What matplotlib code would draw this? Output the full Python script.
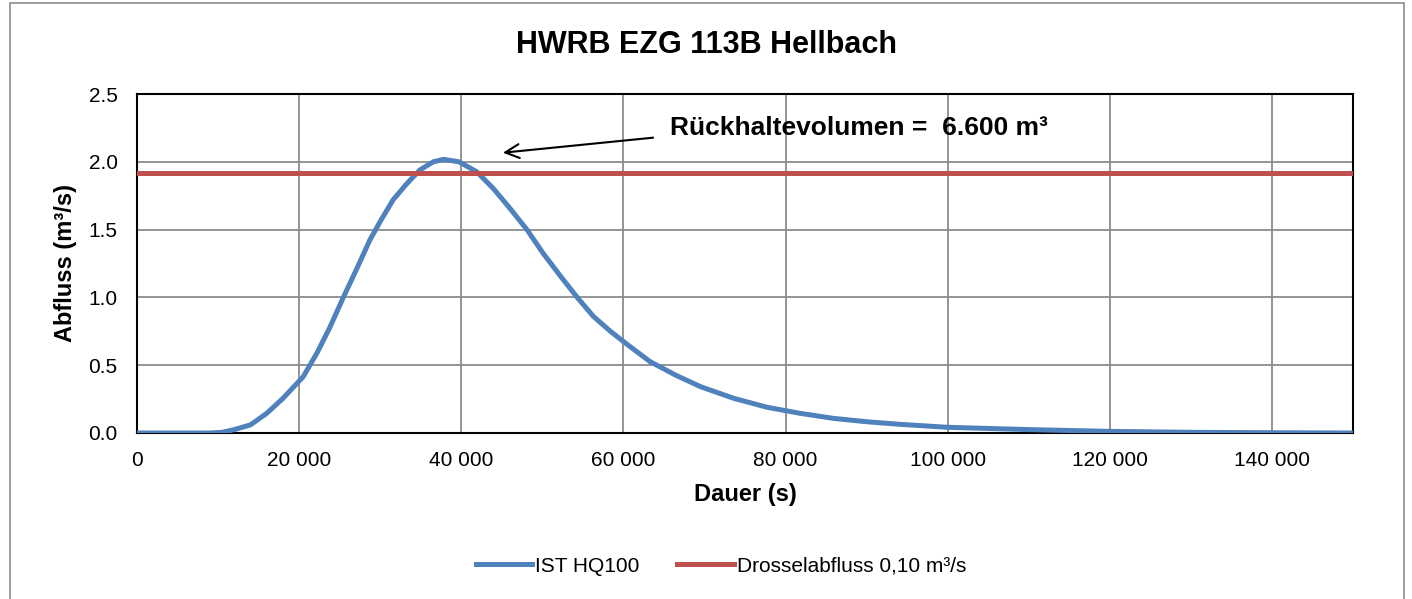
import matplotlib
matplotlib.use("Agg")
import matplotlib.pyplot as plt
from matplotlib.patches import Rectangle
from matplotlib.lines import Line2D

plt.rcParams['font.family'] = ['Liberation Sans', 'DejaVu Sans']

# Data
dauer = [0, 9000, 10500, 12000, 14000, 16000, 18000, 20500, 22200, 23800, 25450, 27100,
         28700, 30000, 31600, 33300, 34900, 36550, 37800, 39700, 41900, 44000, 46000,
         48100, 50100, 52200, 54300, 56300, 58400, 60400, 63300, 66400, 69500, 73600,
         77700, 81800, 85900, 90000, 94100, 100000, 110000, 120000, 130000, 140000, 150000]
abfluss = [0.0, 0.0, 0.005, 0.025, 0.06, 0.145, 0.255, 0.415, 0.59, 0.78, 1.0, 1.21,
           1.42, 1.56, 1.72, 1.84, 1.94, 2.0, 2.018, 2.0, 1.927, 1.80, 1.657,
           1.50, 1.325, 1.16, 1.0, 0.86, 0.75, 0.656, 0.526, 0.428, 0.342, 0.256,
           0.19, 0.145, 0.108, 0.083, 0.064, 0.042, 0.025, 0.012, 0.005, 0.002, 0.0]
drossel_y = 1.92

x_ticks = [0, 20000, 40000, 60000, 80000, 100000, 120000, 140000]
x_ticklabels = ["0", "20 000", "40 000", "60 000", "80 000", "100 000", "120 000", "140 000"]
y_ticks = [0.0, 0.5, 1.0, 1.5, 2.0, 2.5]
y_ticklabels = ["0.0", "0.5", "1.0", "1.5", "2.0", "2.5"]

title = "HWRB EZG 113B Hellbach"
label_blue = "IST HQ100"
label_red = "Drosselabfluss 0,10 m³/s"
annot = "Rückhaltevolumen =  6.600 m³"

blue = "#4F81BD"
red = "#C0504D"

fig = plt.figure(figsize=(14.12, 5.99), dpi=100)
ax = fig.add_axes([137/1412, 1-433/599, (1353-137)/1412, (433-94)/599])

ax.plot(dauer, abfluss, color=blue, lw=3.6, solid_capstyle='butt',
        solid_joinstyle='round', zorder=3)
ax.axhline(drossel_y, color=red, lw=3.6, zorder=3)

ax.set_xlim(0, 150000)
ax.set_ylim(0, 2.5)
ax.set_xticks(x_ticks)
ax.set_xticklabels(x_ticklabels)
ax.set_yticks(y_ticks)
ax.set_yticklabels(y_ticklabels)
ax.tick_params(axis='both', length=0, labelsize=15)
ax.tick_params(axis='x', pad=13)
ax.tick_params(axis='y', pad=14)
ax.grid(True, color="#8C8C8C", lw=1.3)
ax.set_axisbelow(True)
for s in ax.spines.values():
    s.set_color("black")
    s.set_linewidth(1.5)

ax.set_xlabel("Dauer (s)", fontsize=17, fontweight='bold', labelpad=9)
ax.set_ylabel("Abfluss (m³/s)", fontsize=17, fontweight='bold', labelpad=8)

fig.text(0.5, 1-45/599, title, ha='center', va='center', fontsize=22, fontweight='bold')

ax.annotate("", xy=(44800, 2.065), xytext=(64000, 2.18),
            arrowprops=dict(arrowstyle='->', color='black', lw=1.5, mutation_scale=25))
ax.text(65800, 2.25, annot, fontsize=19, fontweight='bold', va='center', ha='left')

handles = [Line2D([], [], color=blue, lw=3.6), Line2D([], [], color=red, lw=3.6)]
fig.legend(handles, [label_blue, label_red], loc='center', bbox_to_anchor=(721/1412, 1-566/599),
           ncol=2, frameon=False, fontsize=15, handlelength=2.7, handletextpad=0.15,
           columnspacing=1.8)

fig.add_artist(Rectangle((10/1412, -0.01), (1404-10)/1412, 1-3/599 + 0.01,
                         transform=fig.transFigure, fill=False, edgecolor="#8C8C8C", lw=1.2))

fig.savefig("out.png", dpi=100)
